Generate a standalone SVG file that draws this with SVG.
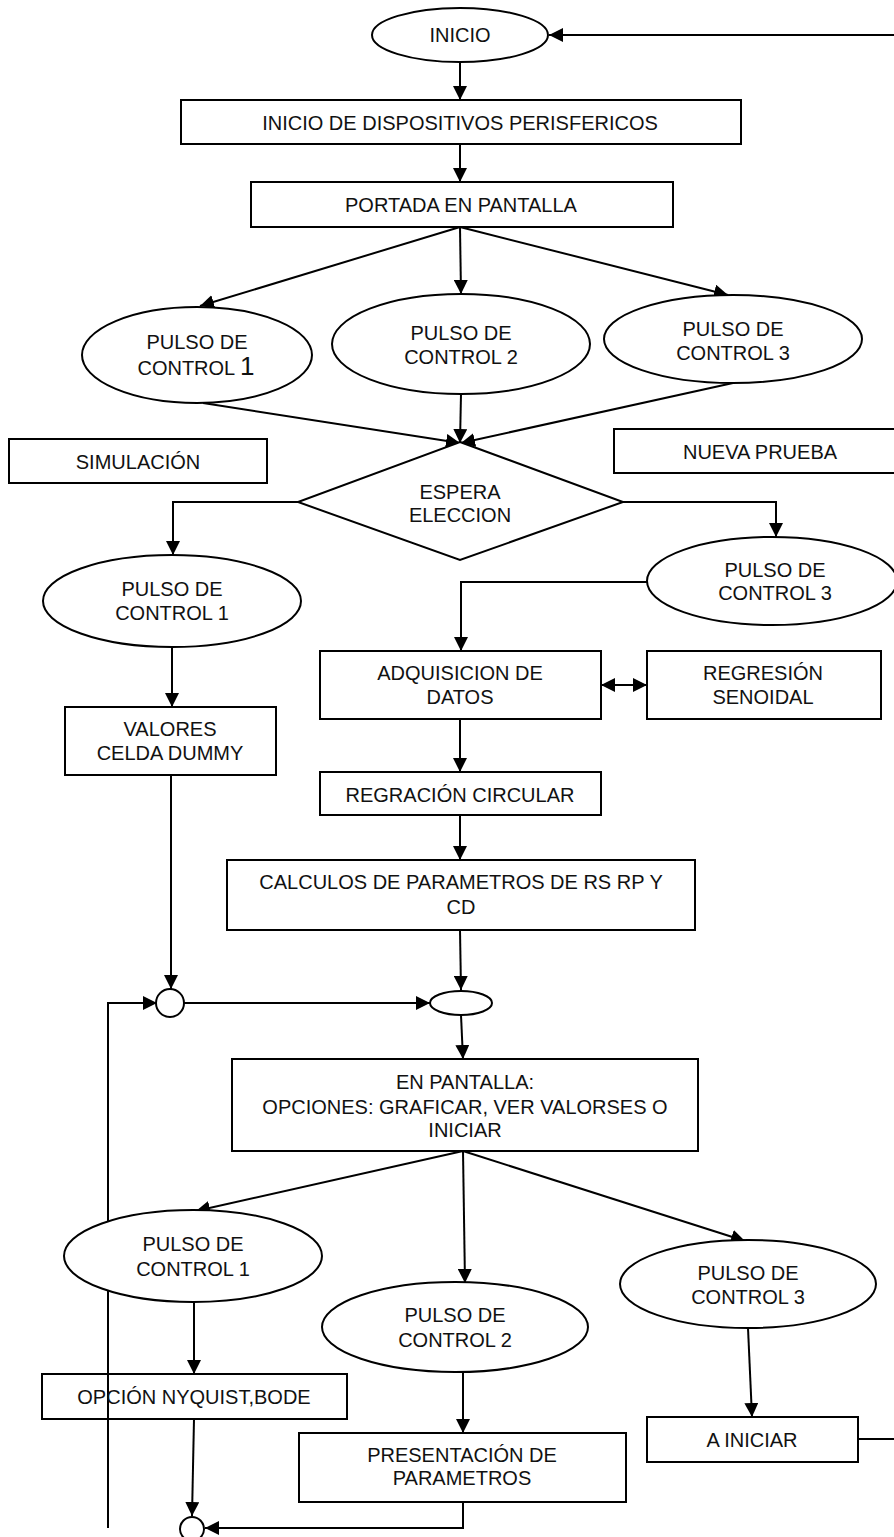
<svg xmlns="http://www.w3.org/2000/svg" width="894" height="1537" viewBox="0 0 894 1537">
  <style>
    .shape { fill: #ffffff; stroke: #000000; stroke-width: 2; }
    .wire { fill: none; stroke: #000000; stroke-width: 2; }
    .lbl { font-family: "Liberation Sans", Arial, sans-serif; font-size: 20px; fill: #111111; text-anchor: middle; }
  </style>
  <defs>
    <marker id="arrow" markerUnits="userSpaceOnUse" markerWidth="14" markerHeight="14" refX="14" refY="7" orient="auto-start-reverse">
      <path d="M0,0 L14,7 L0,14 Z" fill="#000000"/>
    </marker>
  </defs>
  <rect x="0" y="0" width="894" height="1537" fill="#ffffff"/>

  <!-- connectors -->
  <g id="connectors" class="wire">
    <line x1="894" y1="35" x2="549" y2="35" marker-end="url(#arrow)"/>
    <line x1="460" y1="62" x2="460" y2="100" marker-end="url(#arrow)"/>
    <line x1="460" y1="144" x2="460" y2="182" marker-end="url(#arrow)"/>
    <line x1="460" y1="227" x2="200" y2="306" marker-end="url(#arrow)"/>
    <line x1="460" y1="227" x2="461" y2="294" marker-end="url(#arrow)"/>
    <line x1="460" y1="227" x2="728" y2="295" marker-end="url(#arrow)"/>
    <line x1="203" y1="403" x2="460" y2="443" marker-end="url(#arrow)"/>
    <line x1="461" y1="394" x2="460" y2="443" marker-end="url(#arrow)"/>
    <line x1="733" y1="383" x2="461" y2="443" marker-end="url(#arrow)"/>
    <polyline points="298,502 173,502 173,555" marker-end="url(#arrow)"/>
    <polyline points="623,502 776,502 776,537" marker-end="url(#arrow)"/>
    <polyline points="647,582 461,582 461,651" marker-end="url(#arrow)"/>
    <line x1="601" y1="685" x2="647" y2="685" marker-start="url(#arrow)" marker-end="url(#arrow)"/>
    <line x1="460" y1="719" x2="460" y2="772" marker-end="url(#arrow)"/>
    <line x1="460" y1="815" x2="460" y2="860" marker-end="url(#arrow)"/>
    <line x1="172" y1="647" x2="172" y2="707" marker-end="url(#arrow)"/>
    <line x1="171" y1="775" x2="171" y2="989" marker-end="url(#arrow)"/>
    <line x1="460" y1="930" x2="461" y2="990" marker-end="url(#arrow)"/>
    <line x1="184" y1="1003" x2="430" y2="1003" marker-end="url(#arrow)"/>
    <polyline points="108,1528 108,1003 157,1003" marker-end="url(#arrow)"/>
    <line x1="461" y1="1015" x2="463" y2="1059" marker-end="url(#arrow)"/>
    <line x1="463" y1="1151" x2="196" y2="1211" marker-end="url(#arrow)"/>
    <line x1="463" y1="1151" x2="465" y2="1283" marker-end="url(#arrow)"/>
    <line x1="463" y1="1151" x2="745" y2="1241" marker-end="url(#arrow)"/>
    <line x1="194" y1="1302" x2="194" y2="1374" marker-end="url(#arrow)"/>
    <line x1="194" y1="1419" x2="192" y2="1516" marker-end="url(#arrow)"/>
    <line x1="463" y1="1372" x2="463" y2="1433" marker-end="url(#arrow)"/>
    <polyline points="463,1502 463,1528 205,1528" marker-end="url(#arrow)"/>
    <line x1="748" y1="1328" x2="752" y2="1417" marker-end="url(#arrow)"/>
    <line x1="858" y1="1439" x2="894" y2="1439"/>
  </g>

  <g id="inicio">
    <ellipse class="shape" cx="460" cy="35" rx="88" ry="27"/>
    <text class="lbl" x="460" y="42">INICIO</text>
  </g>
  <g id="inicio-dispositivos">
    <rect class="shape" x="181" y="100" width="560" height="44"/>
    <text class="lbl" x="460" y="130">INICIO DE DISPOSITIVOS PERISFERICOS</text>
  </g>
  <g id="portada">
    <rect class="shape" x="251" y="182" width="422" height="45"/>
    <text class="lbl" x="461" y="212">PORTADA EN PANTALLA</text>
  </g>
  <g id="pulso-1a">
    <ellipse class="shape" cx="197" cy="355" rx="115" ry="48"/>
    <text class="lbl" x="197" y="349">PULSO DE</text>
    <text class="lbl" x="196" y="375">CONTROL <tspan font-size="26">1</tspan></text>
  </g>
  <g id="pulso-2a">
    <ellipse class="shape" cx="461" cy="344" rx="129" ry="50"/>
    <text class="lbl" x="461" y="340">PULSO DE</text>
    <text class="lbl" x="461" y="364">CONTROL 2</text>
  </g>
  <g id="pulso-3a">
    <ellipse class="shape" cx="733" cy="339" rx="129" ry="44"/>
    <text class="lbl" x="733" y="336">PULSO DE</text>
    <text class="lbl" x="733" y="360">CONTROL 3</text>
  </g>
  <g id="simulacion">
    <rect class="shape" x="9" y="439" width="258" height="44"/>
    <text class="lbl" x="138" y="469">SIMULACIÓN</text>
  </g>
  <g id="nueva-prueba">
    <rect class="shape" x="614" y="429" width="292" height="44"/>
    <text class="lbl" x="760" y="459">NUEVA PRUEBA</text>
  </g>
  <g id="espera-eleccion">
    <polygon class="shape" points="460,442 623,502 460,560 298,502"/>
    <text class="lbl" x="460" y="499">ESPERA</text>
    <text class="lbl" x="460" y="522">ELECCION</text>
  </g>
  <g id="pulso-1b">
    <ellipse class="shape" cx="172" cy="601" rx="129" ry="46"/>
    <text class="lbl" x="172" y="596">PULSO DE</text>
    <text class="lbl" x="172" y="620">CONTROL 1</text>
  </g>
  <g id="pulso-3b">
    <ellipse class="shape" cx="772" cy="581" rx="125" ry="44"/>
    <text class="lbl" x="775" y="577">PULSO DE</text>
    <text class="lbl" x="775" y="600">CONTROL 3</text>
  </g>
  <g id="adquisicion">
    <rect class="shape" x="320" y="651" width="281" height="68"/>
    <text class="lbl" x="460" y="680">ADQUISICION DE</text>
    <text class="lbl" x="460" y="704">DATOS</text>
  </g>
  <g id="regresion-senoidal">
    <rect class="shape" x="647" y="651" width="234" height="68"/>
    <text class="lbl" x="763" y="680">REGRESIÓN</text>
    <text class="lbl" x="763" y="704">SENOIDAL</text>
  </g>
  <g id="valores-dummy">
    <rect class="shape" x="65" y="707" width="211" height="68"/>
    <text class="lbl" x="170" y="736">VALORES</text>
    <text class="lbl" x="170" y="760">CELDA DUMMY</text>
  </g>
  <g id="regracion-circular">
    <rect class="shape" x="320" y="772" width="281" height="43"/>
    <text class="lbl" x="460" y="802">REGRACIÓN CIRCULAR</text>
  </g>
  <g id="calculos">
    <rect class="shape" x="227" y="860" width="468" height="70"/>
    <text class="lbl" x="461" y="889">CALCULOS DE PARAMETROS DE RS RP Y</text>
    <text class="lbl" x="461" y="914">CD</text>
  </g>
  <g id="union-izquierda">
    <circle class="shape" cx="170" cy="1003" r="14"/>
  </g>
  <g id="union-central">
    <ellipse class="shape" cx="461" cy="1003" rx="31" ry="12"/>
  </g>
  <g id="en-pantalla">
    <rect class="shape" x="232" y="1059" width="466" height="92"/>
    <text class="lbl" x="465" y="1089">EN PANTALLA:</text>
    <text class="lbl" x="465" y="1114">OPCIONES: GRAFICAR, VER VALORSES O</text>
    <text class="lbl" x="465" y="1137">INICIAR</text>
  </g>
  <g id="pulso-1c">
    <ellipse class="shape" cx="193" cy="1256" rx="129" ry="46"/>
    <text class="lbl" x="193" y="1251">PULSO DE</text>
    <text class="lbl" x="193" y="1276">CONTROL 1</text>
  </g>
  <g id="pulso-2c">
    <ellipse class="shape" cx="455" cy="1327" rx="133" ry="45"/>
    <text class="lbl" x="455" y="1322">PULSO DE</text>
    <text class="lbl" x="455" y="1347">CONTROL 2</text>
  </g>
  <g id="pulso-3c">
    <ellipse class="shape" cx="748" cy="1284" rx="128" ry="44"/>
    <text class="lbl" x="748" y="1280">PULSO DE</text>
    <text class="lbl" x="748" y="1304">CONTROL 3</text>
  </g>
  <g id="opcion-nyquist">
    <rect class="shape" x="42" y="1374" width="305" height="45" fill-opacity="0"/>
    <text class="lbl" x="194" y="1404">OPCIÓN NYQUIST,BODE</text>
  </g>
  <g id="presentacion">
    <rect class="shape" x="299" y="1433" width="327" height="69"/>
    <text class="lbl" x="462" y="1462">PRESENTACIÓN DE</text>
    <text class="lbl" x="462" y="1485">PARAMETROS</text>
  </g>
  <g id="a-iniciar">
    <rect class="shape" x="647" y="1417" width="211" height="45"/>
    <text class="lbl" x="752" y="1447">A INICIAR</text>
  </g>
  <g id="union-inferior">
    <circle class="shape" cx="192" cy="1529" r="12"/>
  </g>
</svg>
